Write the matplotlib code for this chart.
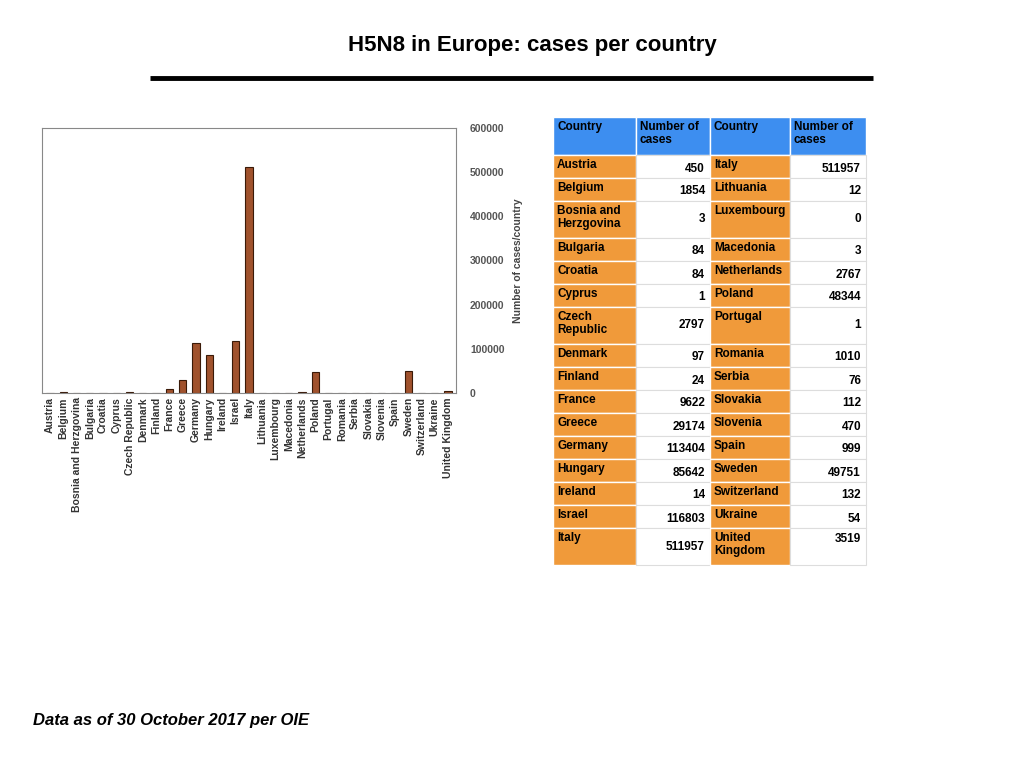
import matplotlib
matplotlib.use("Agg")
import matplotlib.pyplot as plt
from matplotlib.patches import Rectangle

plt.rcParams["font.family"] = ["Liberation Sans", "DejaVu Sans"]

chart_countries = ["Austria", "Belgium", "Bosnia and Herzgovina", "Bulgaria", "Croatia",
                   "Cyprus", "Czech Republic", "Denmark", "Finland", "France", "Greece",
                   "Germany", "Hungary", "Ireland", "Israel", "Italy", "Lithuania",
                   "Luxembourg", "Macedonia", "Netherlands", "Poland", "Portugal",
                   "Romania", "Serbia", "Slovakia", "Slovenia", "Spain", "Sweden",
                   "Switzerland", "Ukraine", "United Kingdom"]
chart_cases = [450, 1854, 3, 84, 84, 1, 2797, 97, 24, 9622, 29174, 113404, 85642, 14,
               116803, 511957, 12, 0, 3, 2767, 48344, 1, 1010, 76, 112, 470, 999,
               49751, 132, 54, 3519]

left_names = ["Austria", "Belgium", "Bosnia and\nHerzgovina", "Bulgaria", "Croatia",
              "Cyprus", "Czech\nRepublic", "Denmark", "Finland", "France", "Greece",
              "Germany", "Hungary", "Ireland", "Israel", "Italy"]
left_values = [450, 1854, 3, 84, 84, 1, 2797, 97, 24, 9622, 29174, 113404, 85642, 14,
               116803, 511957]
right_names = ["Italy", "Lithuania", "Luxembourg", "Macedonia", "Netherlands", "Poland",
               "Portugal", "Romania", "Serbia", "Slovakia", "Slovenia", "Spain", "Sweden",
               "Switzerland", "Ukraine", "United\nKingdom"]
right_values = [511957, 12, 0, 3, 2767, 48344, 1, 1010, 76, 112, 470, 999, 49751, 132,
                54, 3519]
header = ["Country", "Number of\ncases", "Country", "Number of\ncases"]

fig = plt.figure(figsize=(10.24, 7.68), dpi=100)
W, H = 1024, 768

# bar chart (pixel box: x 42..456, y 128..393)
ax = fig.add_axes([42 / W, 1 - 393 / H, (456 - 42) / W, (393 - 128) / H])
x = range(len(chart_countries))
ax.bar(x, chart_cases, width=0.55, color="#a0522d", edgecolor="#3a1a08", linewidth=0.8)
ax.set_ylim(0, 600000)
ax.set_xlim(-0.6, len(chart_countries) - 0.4)
ax.yaxis.tick_right()
ax.yaxis.set_label_position("right")
ax.set_yticks([0, 100000, 200000, 300000, 400000, 500000, 600000])
ax.set_yticklabels(["0", "100000", "200000", "300000", "400000", "500000", "600000"],
                   fontsize=7.5, fontweight="bold", color="#555555")
ax.tick_params(axis="y", length=0, pad=10)
ax.tick_params(axis="x", length=0, pad=3)
ax.set_xticks(list(x))
ax.set_xticklabels(chart_countries, rotation=90, fontsize=7.5, fontweight="bold",
                   color="#333333")
ax.set_ylabel("Number of cases/country", fontsize=7.5, fontweight="bold",
              color="#444444", labelpad=6)
for s in ax.spines.values():
    s.set_color("#888888")
    s.set_linewidth(0.8)

# overlay for title, rule, table, footer
ov = fig.add_axes([0, 0, 1, 1])
ov.set_xlim(0, W)
ov.set_ylim(H, 0)
ov.axis("off")
ov.text(532, 45, "H5N8 in Europe: cases per country", ha="center", va="center",
        fontsize=16, fontweight="bold")
ov.plot([150, 873], [78, 78], color="black", linewidth=3.5, solid_capstyle="butt")
ov.text(33, 720, "Data as of 30 October 2017 per OIE", ha="left", va="center",
        fontsize=12, fontweight="bold", style="italic")

col_x = [553, 636, 710, 790, 866]
blue, orange = "#3d8ef0", "#f09a3a"
fs = 8.5

top = 117
hh = 38
for i, txt in enumerate(header):
    ov.add_patch(Rectangle((col_x[i], top), col_x[i + 1] - col_x[i], hh,
                           facecolor=blue, edgecolor="white", linewidth=1))
    ov.text(col_x[i] + 4, top + 4, txt, ha="left", va="top", fontsize=fs,
            fontweight="bold", linespacing=1.1)
y = top + hh
for ln, lv, rn, rv in zip(left_names, left_values, right_names, right_values):
    h = 37 if ("\n" in ln or "\n" in rn) else 23
    for c, (name, val) in enumerate([(ln, lv), (rn, rv)]):
        x0 = col_x[2 * c]
        ov.add_patch(Rectangle((x0, y), col_x[2 * c + 1] - x0, h, facecolor=orange,
                               edgecolor="white", linewidth=1))
        ov.add_patch(Rectangle((col_x[2 * c + 1], y), col_x[2 * c + 2] - col_x[2 * c + 1], h,
                               facecolor="white", edgecolor="#dddddd", linewidth=0.8))
        ov.text(x0 + 4, y + 4, name, ha="left", va="top", fontsize=fs,
                fontweight="bold", linespacing=1.1)
        vy = y + h / 2 + 2 if h == 23 else y + h / 2
        if name.startswith("United"):
            vy = y + 11
        ov.text(col_x[2 * c + 2] - 5, vy, str(val), ha="right", va="center",
                fontsize=fs, fontweight="bold")
    y += h

fig.savefig("out.png", dpi=100)
